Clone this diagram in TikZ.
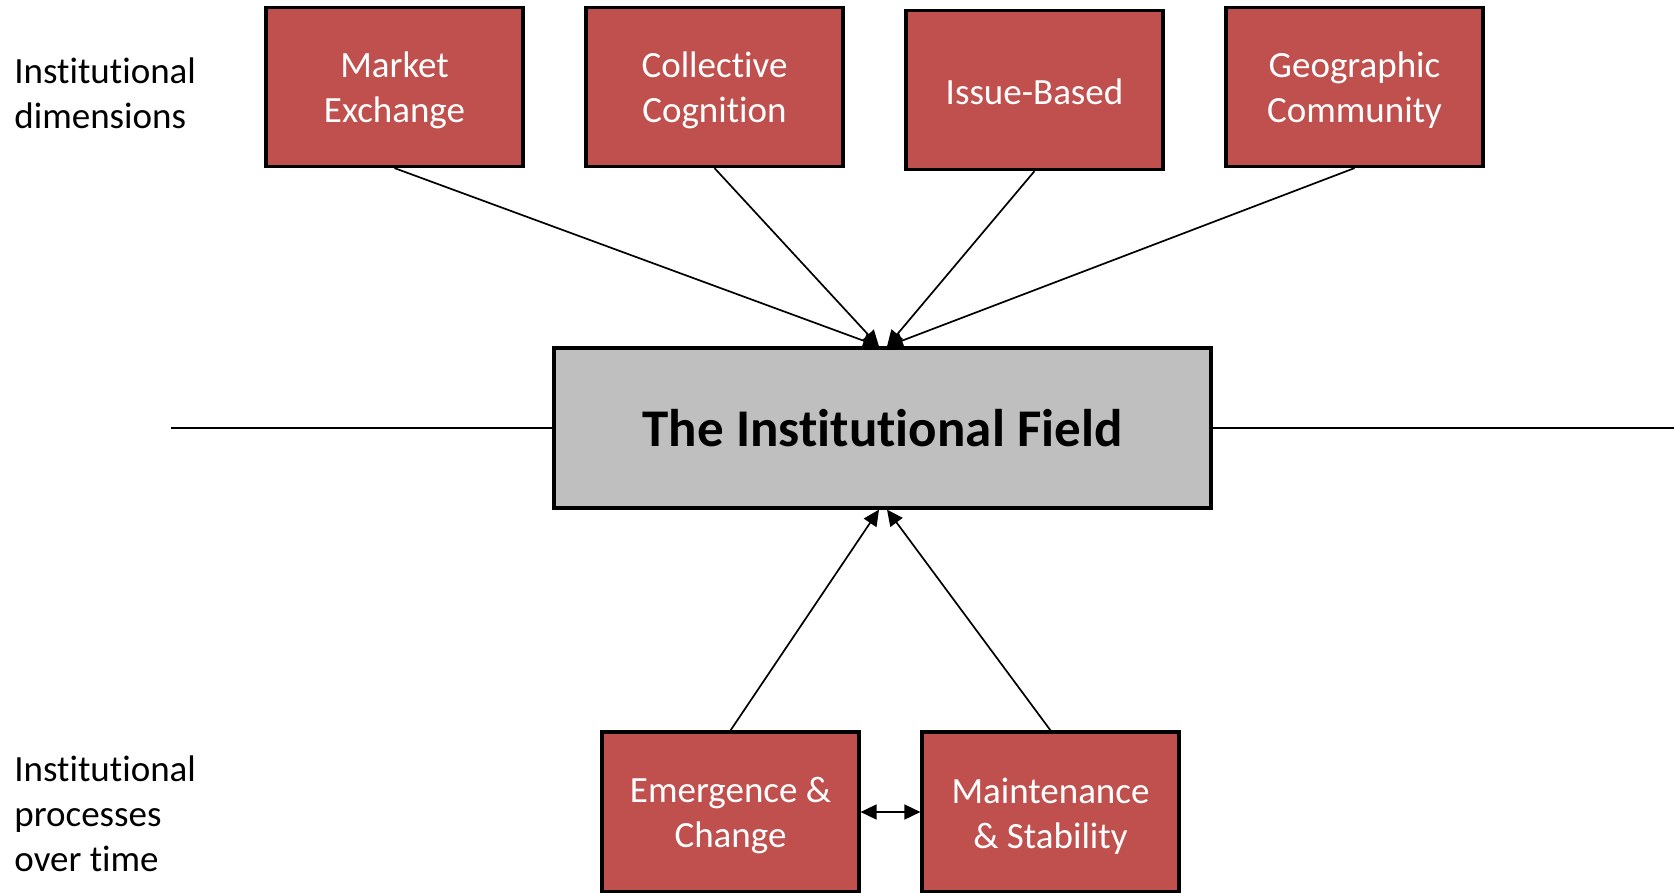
\documentclass[tikz,border=0pt]{standalone}
\usepackage{fontspec}
\setmainfont[Ligatures=NoCommon]{Carlito}
\usetikzlibrary{arrows.meta}
\definecolor{boxred}{HTML}{C0504D}
\definecolor{fieldgray}{HTML}{BFBFBF}
\begin{document}
\begin{tikzpicture}[x=0.5pt,y=-0.5pt,
  redbox/.style={draw=black,line width=1.6pt,fill=boxred,
    minimum width=128.5pt,minimum height=79.5pt,inner sep=0pt},
  boxtext/.style={text=white,inner sep=0pt,align=center,
    font=\fontsize{18.5}{22.5}\selectfont},
  fieldbox/.style={draw=black,line width=1.6pt,fill=fieldgray,text=black,
    minimum width=328.5pt,minimum height=80pt,inner sep=0pt,
    font=\bfseries\fontsize{26.5}{32}\selectfont},
  sidetext/.style={anchor=west,inner sep=0pt,align=left,
    font=\fontsize{18.5}{22.5}\selectfont},
  conn/.style={line width=0.85pt,-{Triangle[width=7.5pt,length=8pt]}},
  dconn/.style={line width=0.85pt,{Triangle[width=7.5pt,length=8pt]}-{Triangle[width=7.5pt,length=8pt]}},
  plainline/.style={line width=0.85pt}]
\useasboundingbox (0,0) rectangle (1674,893);

% side labels
\node[sidetext] (dimlabel) at (14,93) {Institutional\\dimensions};
\node[sidetext] (proclabel) at (14,814) {Institutional\\processes\\over time};

% top boxes
\node[redbox] (market) at (394.5,87) {};
\node[redbox] (cognition) at (714.5,87) {};
\node[redbox] (issue) at (1034.5,90) {};
\node[redbox] (geo) at (1354.5,87) {};
\node[boxtext] (markett) at ([yshift=-1.6pt]market.center) {Market\\Exchange};
\node[boxtext] (cognitiont) at ([yshift=-1.6pt]cognition.center) {Collective\\Cognition};
\node[boxtext] (issuet) at ([yshift=-0.8pt]issue.center) {Issue-Based};
\node[boxtext] (geot) at ([yshift=-1.6pt]geo.center) {Geographic\\Community};

% central box
\node[fieldbox] (field) at (882.5,428) {The Institutional Field};

% bottom boxes
\node[redbox,minimum height=80pt] (emerg) at (730.5,812) {};
\node[redbox,minimum height=80pt] (maint) at (1050.5,812) {};
\node[boxtext] (emergt) at ([yshift=-2pt]emerg.center) {Emergence \&\\Change};
\node[boxtext] (maintt) at ([yshift=-2pt]maint.center) {Maintenance\\\& Stability};

% horizontal axis
\coordinate (axl) at (171,428);
\coordinate (axr) at (1674,428);
\draw[plainline] (axl) -- (field.west);
\draw[plainline] (field.east) -- (axr);

% arrows into the field
\coordinate (tl) at ([xshift=-1.75pt]field.north);
\coordinate (tr) at ([xshift=2.25pt]field.north);
\coordinate (bl) at ([xshift=-1.75pt]field.south);
\coordinate (br) at ([xshift=2.25pt]field.south);
\draw[conn] (market.south) -- (tl);
\draw[conn] (cognition.south) -- (tl);
\draw[conn] (issue.south) -- (tr);
\draw[conn] (geo.south) -- (tr);
\draw[conn] (emerg.north) -- (bl);
\draw[conn] (maint.north) -- (br);

% between processes
\draw[dconn] (emerg.east) -- (maint.west);
\end{tikzpicture}
\end{document}
